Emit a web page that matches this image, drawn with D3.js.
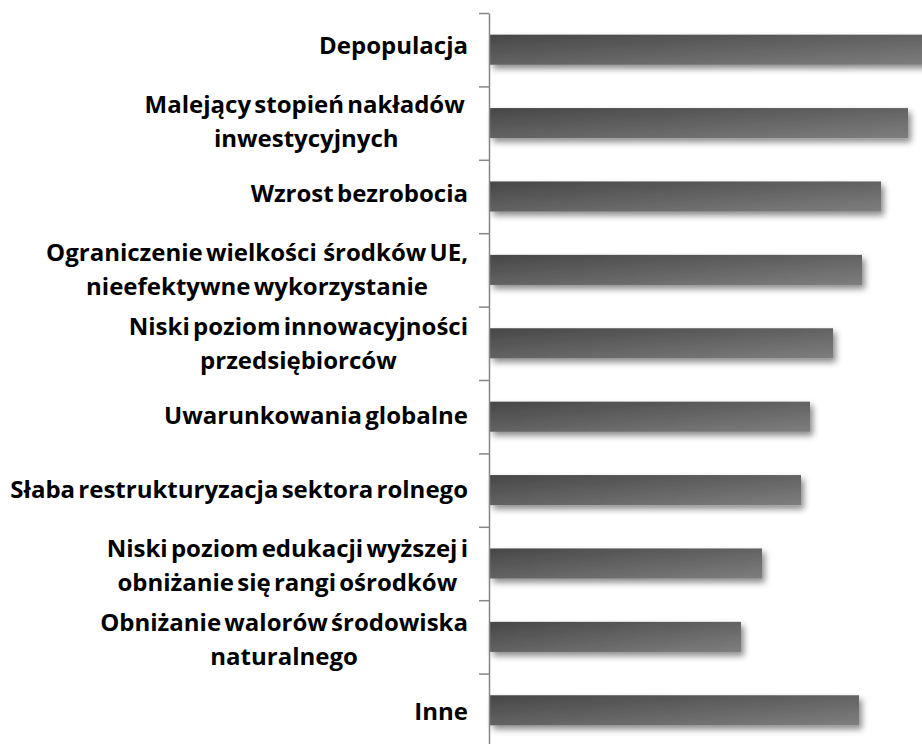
<!DOCTYPE html>
<html>
<head>
<meta charset="utf-8">
<script src="https://cdn.jsdelivr.net/npm/d3@7"></script>
<style>
  html, body { margin: 0; padding: 0; background: #fff; }
  svg { display: block; }
</style>
</head>
<body>
<svg id="chart" width="922" height="744"></svg>
<script>
// Categories (each entry split into display lines) and their values (%)
const categories = [
  ["Depopulacja"],
  ["Malejący stopień nakładów ", "inwestycyjnych"],
  ["Wzrost bezrobocia"],
  ["Ograniczenie wielkości  środków UE,", "nieefektywne wykorzystanie"],
  ["Niski poziom innowacyjności", "przedsiębiorców"],
  ["Uwarunkowania globalne"],
  ["Słaba restrukturyzacja sektora rolnego"],
  ["Niski poziom edukacji wyższej i", "obniżanie się rangi ośrodków"],
  ["Obniżanie walorów środowiska", "naturalnego"],
  ["Inne"]
];
const values = [90.0, 83.6, 78.2, 74.4, 68.6, 64.0, 62.2, 54.4, 50.2, 73.8];

(function drawChart() {
  const svg = d3.select("#chart");
  const axisX = 489, plotTop = 13, step = 73.4;
  const n = categories.length;

  const x = d3.scaleLinear().domain([0, 100]).range([axisX + 1, axisX + 501]);
  const y = d3.scaleBand().domain(d3.range(n)).range([plotTop, plotTop + n * step])
    .paddingInner(0.59).paddingOuter(0.295);
  const yEdges = d3.scaleLinear().domain([0, n]).range([plotTop, plotTop + n * step]);
  // label slots run on a slightly wider pitch than the bars
  const yLabel = d3.scaleBand().domain(d3.range(n)).range([10, 10 + n * 74]);

  const defs = svg.append("defs");
  const grad = defs.append("linearGradient").attr("id", "barGrad")
    .attr("x1", 0).attr("y1", 0).attr("x2", 1).attr("y2", 1);
  grad.append("stop").attr("offset", "0%").attr("stop-color", "#474747");
  grad.append("stop").attr("offset", "100%").attr("stop-color", "#7e7e7e");

  const shadow = defs.append("filter").attr("id", "shadow")
    .attr("x", "-5%").attr("y", "-40%").attr("width", "115%").attr("height", "200%");
  shadow.append("feDropShadow").attr("dx", 3).attr("dy", 4)
    .attr("stdDeviation", 3).attr("flood-color", "#000").attr("flood-opacity", 0.45);

  // Bars
  svg.append("g").selectAll("rect").data(values).join("rect")
    .attr("x", x(0))
    .attr("y", (d, i) => y(i))
    .attr("width", d => x(d) - x(0))
    .attr("height", y.bandwidth())
    .attr("fill", "url(#barGrad)")
    .attr("filter", "url(#shadow)");

  // Category axis with ticks on band boundaries
  const axis = svg.append("g").attr("transform", `translate(${axisX},0)`)
    .call(d3.axisLeft(yEdges).tickValues(d3.range(n + 1)).tickFormat("")
      .tickSize(10).tickSizeOuter(0));
  axis.select(".domain").attr("stroke", "#868686").attr("stroke-width", 1.5);
  axis.selectAll(".tick line").attr("stroke", "#868686").attr("stroke-width", 1.5);

  // Category labels, lines centred within a right-aligned block
  const labelRight = 468, lineH = 34;
  const labels = svg.append("g")
    .attr("font-family", "'Open Sans', Lato, sans-serif")
    .attr("font-weight", "bold")
    .attr("font-size", 24)
    .attr("word-spacing", -3)
    .attr("fill", "#000");

  categories.forEach((lines, i) => {
    const cy = yLabel(i) + yLabel.bandwidth() / 2 + (lines.length > 1 ? 1.5 : 0);
    const g = labels.append("g");
    const texts = lines.map((ln, j) => g.append("text")
      .style("white-space", "pre")
      .attr("y", cy + (j - (lines.length - 1) / 2) * lineH + 7)
      .text(ln));
    const widths = texts.map(t => t.node().getComputedTextLength());
    const maxW = d3.max(widths);
    const cx = labelRight - maxW / 2;
    texts.forEach(t => t.attr("x", cx).attr("text-anchor", "middle"));
  });
})();
</script>
</body>
</html>
